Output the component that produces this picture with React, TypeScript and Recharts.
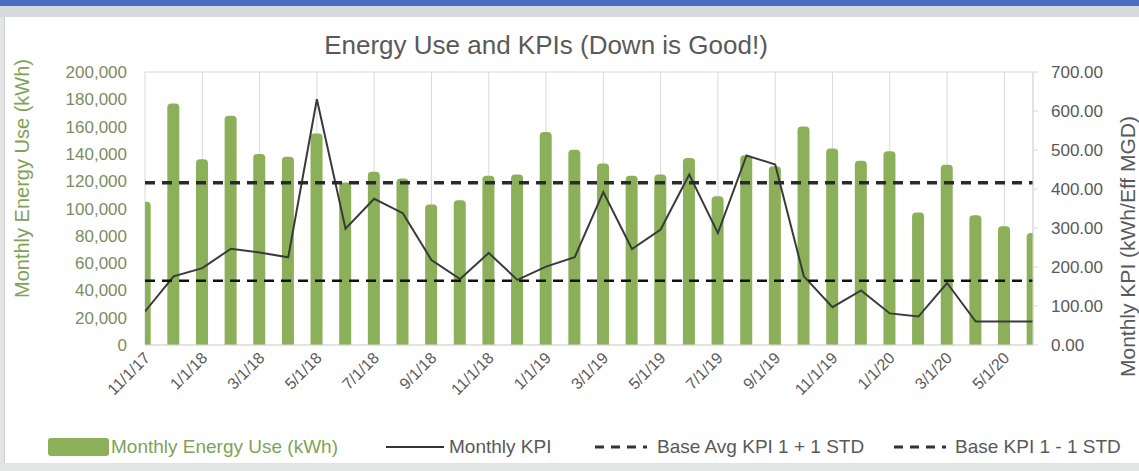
import React from 'react'
import { ComposedChart, Bar, Line, XAxis, YAxis, CartesianGrid, Legend } from 'recharts'

const months = [
  '11/1/17', '12/1/17', '1/1/18', '2/1/18', '3/1/18', '4/1/18', '5/1/18', '6/1/18',
  '7/1/18', '8/1/18', '9/1/18', '10/1/18', '11/1/18', '12/1/18', '1/1/19', '2/1/19',
  '3/1/19', '4/1/19', '5/1/19', '6/1/19', '7/1/19', '8/1/19', '9/1/19', '10/1/19',
  '11/1/19', '12/1/19', '1/1/20', '2/1/20', '3/1/20', '4/1/20', '5/1/20', '6/1/20',
]
const labelledMonths = [
  '11/1/17', '1/1/18', '3/1/18', '5/1/18', '7/1/18', '9/1/18', '11/1/18', '1/1/19',
  '3/1/19', '5/1/19', '7/1/19', '9/1/19', '11/1/19', '1/1/20', '3/1/20', '5/1/20',
]
const energyUse = [
  105000, 177000, 136000, 168000, 140000, 138000, 155000, 119000,
  127000, 122000, 103000, 106000, 124000, 125000, 156000, 143000,
  133000, 124000, 125000, 137000, 109000, 139000, 131000, 160000,
  144000, 135000, 142000, 97000, 132000, 95000, 87000, 82000,
]
const monthlyKpi = [
  86, 176, 197, 247, 237, 225, 630, 298,
  375, 338, 218, 169, 236, 167, 201, 225,
  392, 246, 296, 437, 287, 486, 463, 176,
  97, 140, 81, 73, 159, 60, 60, 60,
]
const kpiPlusStd = 416
const kpiMinusStd = 165
const energyTicks = [0, 20000, 40000, 60000, 80000, 100000, 120000, 140000, 160000, 180000, 200000]
const kpiTicks = [0, 100, 200, 300, 400, 500, 600, 700]

const data = months.map((m, i) => ({
  i,
  month: m,
  energy: energyUse[i],
  kpi: monthlyKpi[i],
  upper: kpiPlusStd,
  lower: kpiMinusStd,
}))
const monthTicks = labelledMonths.map((m) => months.indexOf(m))

const FONT = '"Liberation Sans", Arial, sans-serif'
const GREEN = '#8cb05a'
const GRAY = '#595959'

function MonthTick({ x, y, payload }: any) {
  const ax = x + 6
  const ay = y + 6
  return (
    <text x={ax} y={ay} transform={`rotate(-45 ${ax} ${ay})`} textAnchor="end"
      fontSize={16} fill={GRAY} fontFamily={FONT}>
      {months[payload.value]}
    </text>
  )
}

function LeftTitle({ viewBox }: any) {
  const x = 29
  const y = viewBox.y + viewBox.height / 2 - 30
  return (
    <text x={x} y={y} transform={`rotate(-90 ${x} ${y})`} textAnchor="middle"
      fontSize={20} fill="#7fa356" fontFamily={FONT}>
      Monthly Energy Use (kWh)
    </text>
  )
}

function RightTitle({ viewBox }: any) {
  const x = 1135
  const y = viewBox.y + viewBox.height / 2 + 38
  return (
    <text x={x} y={y} transform={`rotate(-90 ${x} ${y})`} textAnchor="middle"
      fontSize={21} fill={GRAY} fontFamily={FONT}>
      Monthly KPI (kWh/Eff MGD)
    </text>
  )
}

function LegendBox() {
  const text = { position: 'absolute' as const, top: 6, lineHeight: '20px', fontSize: 19, fontFamily: FONT, whiteSpace: 'nowrap' as const }
  return (
    <div style={{ position: 'relative', width: 1139, height: 40 }}>
      <div style={{ position: 'absolute', left: 48, top: 7, width: 61, height: 18, background: GREEN, borderRadius: 3 }} />
      <span style={{ ...text, left: 111, color: '#7fa356' }}>Monthly Energy Use (kWh)</span>
      <svg style={{ position: 'absolute', left: 386, top: 6 }} width={60} height={20}>
        <line x1={0} y1={10} x2={58} y2={10} stroke="#333" strokeWidth={2} />
      </svg>
      <span style={{ ...text, left: 449, color: GRAY }}>Monthly KPI</span>
      <svg style={{ position: 'absolute', left: 595, top: 6 }} width={54} height={20}>
        <line x1={0} y1={10} x2={52} y2={10} stroke="#333" strokeWidth={3} strokeDasharray="9 7" />
      </svg>
      <span style={{ ...text, left: 657, color: GRAY }}>Base Avg KPI 1 + 1 STD</span>
      <svg style={{ position: 'absolute', left: 894, top: 6 }} width={54} height={20}>
        <line x1={0} y1={10} x2={52} y2={10} stroke="#333" strokeWidth={3} strokeDasharray="9 7" />
      </svg>
      <span style={{ ...text, left: 955, color: GRAY }}>Base KPI 1 - 1 STD</span>
    </div>
  )
}

export default function App() {
  return (
    <div style={{ position: 'absolute', left: 0, top: 0, width: 1139, height: 471, background: '#e3e5e5', overflow: 'hidden' }}>
      <div style={{ position: 'absolute', left: 0, top: 0, width: 1139, height: 6, background: '#4a6fc0' }} />
      <div style={{ position: 'absolute', left: 0, top: 6, width: 1139, height: 11, background: '#d6dada' }} />
      <div style={{ position: 'absolute', left: 4, top: 17, width: 1135, height: 446, background: '#fff', borderLeft: '1px solid #d0d0d0' }} />
      <div style={{ position: 'absolute', left: 0, top: 30, width: 1092, textAlign: 'center', fontSize: 26, lineHeight: '30px', fontFamily: FONT, color: GRAY }}>
        Energy Use and KPIs (Down is Good!)
      </div>
      <div style={{ position: 'absolute', left: 0, top: 0 }}>
        <ComposedChart width={1139} height={471} data={data} margin={{ top: 72, right: 0, bottom: 0, left: 0 }}>
          <CartesianGrid stroke="#d9d9d9" />
          <XAxis type="number" dataKey="i" domain={[0, 31]} ticks={monthTicks} allowDataOverflow
            tick={<MonthTick />} tickLine={false} axisLine={{ stroke: '#d9d9d9' }} height={86} interval={0} />
          <YAxis yAxisId="left" orientation="left" width={145} domain={[0, 200000]} ticks={energyTicks}
            tickFormatter={(v: number) => v.toLocaleString('en-US')} axisLine={false} tickLine={false} tickMargin={12}
            tick={{ fontSize: 17, fill: '#7c8c62', fontFamily: FONT }} label={<LeftTitle />} />
          <YAxis yAxisId="right" orientation="right" width={106} domain={[0, 700]} ticks={kpiTicks}
            tickFormatter={(v: number) => v.toFixed(2)} axisLine={{ stroke: '#d9d9d9' }} tickLine={{ stroke: '#d9d9d9' }}
            tickSize={5} tickMargin={13} tick={{ fontSize: 17, fill: GRAY, fontFamily: FONT, textAnchor: 'start' }}
            label={<RightTitle />} />
          <Bar yAxisId="left" dataKey="energy" name="Monthly Energy Use (kWh)" fill={GREEN} barSize={12}
            radius={[4, 4, 0, 0]} isAnimationActive={false} />
          <Line yAxisId="right" dataKey="kpi" name="Monthly KPI" stroke="#3a3a3a" strokeWidth={2}
            dot={false} type="linear" isAnimationActive={false} />
          <Line yAxisId="right" dataKey="upper" name="Base Avg KPI 1 + 1 STD" stroke="#2a2a2a" strokeWidth={3.5}
            strokeDasharray="10 7" dot={false} isAnimationActive={false} />
          <Line yAxisId="right" dataKey="lower" name="Base KPI 1 - 1 STD" stroke="#111" strokeWidth={2.5}
            strokeDasharray="10 7" dot={false} isAnimationActive={false} />
          <Legend verticalAlign="bottom" content={<LegendBox />} wrapperStyle={{ left: 0, width: 1139 }} />
        </ComposedChart>
      </div>
    </div>
  )
}
